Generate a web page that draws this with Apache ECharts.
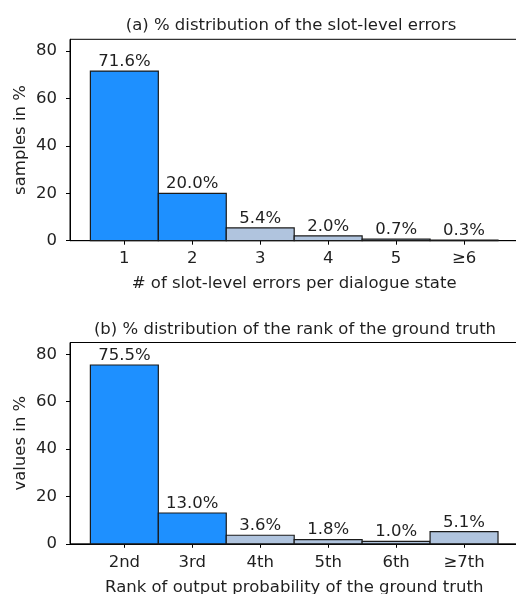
<!DOCTYPE html>
<html>
<head>
<meta charset="utf-8">
<script src="https://cdn.jsdelivr.net/npm/echarts@6/dist/echarts.min.js"></script>
<style>
  html, body { margin: 0; padding: 0; background: #fff; }
  #chart { width: 516px; height: 594px; }
</style>
</head>
<body>
<div id="chart"></div>
<script>
// Panel (a): share of dialogue states by number of slot-level errors
const errorCategories = ['1', '2', '3', '4', '5', '≥6'];
const errorShares = [71.6, 20.0, 5.4, 2.0, 0.7, 0.3];

// Panel (b): share of samples by rank of the ground-truth value
const rankCategories = ['2nd', '3rd', '4th', '5th', '6th', '≥7th'];
const rankShares = [75.5, 13.0, 3.6, 1.8, 1.0, 5.1];

const yTicks = [0, 20, 40, 60, 80];

const FONT = 'DejaVu Sans';
const FS = 16.5;
const TEXT = '#1f1f1f';
const STRONG = '#1e90ff';
const LIGHT = '#b0c4de';
const EDGE = '#1a1a1a';
const HIGHLIGHTED = 2; // leading bars drawn in the strong colour

function barRenderer(params, api) {
  const x = api.value(0);
  const y = api.value(1);
  const topLeft = api.coord([x - 0.5, y]);
  const bottomRight = api.coord([x + 0.5, 0]);
  const idx = params.dataIndex;
  return {
    type: 'group',
    children: [
      {
        type: 'rect',
        shape: {
          x: topLeft[0],
          y: topLeft[1],
          width: bottomRight[0] - topLeft[0],
          height: bottomRight[1] - topLeft[1]
        },
        style: {
          fill: idx < HIGHLIGHTED ? STRONG : LIGHT,
          stroke: EDGE,
          lineWidth: 1.2
        }
      },
      {
        type: 'text',
        x: (topLeft[0] + bottomRight[0]) / 2,
        y: topLeft[1] - 1,
        style: {
          text: y.toFixed(1) + '%',
          fill: TEXT,
          font: FS + 'px "' + FONT + '"',
          align: 'center',
          verticalAlign: 'bottom'
        }
      }
    ]
  };
}

function xAxisFor(gridIndex, cats, name) {
  const positions = cats.map((_, i) => i);
  return {
    type: 'value',
    gridIndex: gridIndex,
    min: -0.8,
    max: 5.8,
    name: name,
    nameLocation: 'middle',
    nameGap: 35,
    nameMoveOverlap: false,
    nameTextStyle: { color: TEXT, fontFamily: FONT, fontSize: FS },
    axisLine: { show: true, onZero: false, lineStyle: { color: '#000', width: 1 } },
    axisTick: { show: true, length: 4, customValues: positions, lineStyle: { color: '#000' } },
    axisLabel: {
      customValues: positions,
      formatter: v => cats[Math.round(v)],
      color: TEXT, fontFamily: FONT, fontSize: FS, margin: 10
    },
    splitLine: { show: false }
  };
}

function yAxisFor(gridIndex, name) {
  return {
    type: 'value',
    gridIndex: gridIndex,
    min: 0,
    max: 85,
    name: name,
    nameLocation: 'middle',
    nameRotate: 90,
    nameGap: 41,
    nameMoveOverlap: false,
    nameTextStyle: { color: TEXT, fontFamily: FONT, fontSize: FS },
    axisLine: { show: true, onZero: false, lineStyle: { color: '#000', width: 1 } },
    axisTick: { show: true, length: 4, customValues: yTicks, lineStyle: { color: '#000' } },
    axisLabel: {
      customValues: yTicks,
      color: TEXT, fontFamily: FONT, fontSize: FS, margin: 13
    },
    splitLine: { show: false }
  };
}

const chart = echarts.init(document.getElementById('chart'), null, { renderer: 'canvas' });
chart.setOption({
  animation: false,
  backgroundColor: '#fff',
  title: [
    {
      text: '(a) % distribution of the slot-level errors',
      left: 286, top: 12, textAlign: 'center',
      textStyle: { color: TEXT, fontFamily: FONT, fontSize: FS, fontWeight: 'normal' }
    },
    {
      text: '(b) % distribution of the rank of the ground truth',
      left: 290, top: 316, textAlign: 'center',
      textStyle: { color: TEXT, fontFamily: FONT, fontSize: FS, fontWeight: 'normal' }
    }
  ],
  grid: [
    { left: 70, top: 39.3, width: 448.4, height: 201.4, outerBoundsMode: 'none', containLabel: false,
      show: true, borderColor: '#000', borderWidth: 1, backgroundColor: 'transparent' },
    { left: 70, top: 342.5, width: 448.4, height: 201.3, outerBoundsMode: 'none', containLabel: false,
      show: true, borderColor: '#000', borderWidth: 1, backgroundColor: 'transparent' }
  ],
  xAxis: [
    xAxisFor(0, errorCategories, '# of slot-level errors per dialogue state'),
    xAxisFor(1, rankCategories, 'Rank of output probability of the ground truth')
  ],
  yAxis: [
    yAxisFor(0, 'samples in %'),
    yAxisFor(1, 'values in %')
  ],
  series: [
    {
      type: 'custom',
      xAxisIndex: 0, yAxisIndex: 0,
      renderItem: barRenderer,
      data: errorShares.map((v, i) => [i, v])
    },
    {
      type: 'custom',
      xAxisIndex: 1, yAxisIndex: 1,
      renderItem: barRenderer,
      data: rankShares.map((v, i) => [i, v])
    }
  ]
});
</script>
</body>
</html>
